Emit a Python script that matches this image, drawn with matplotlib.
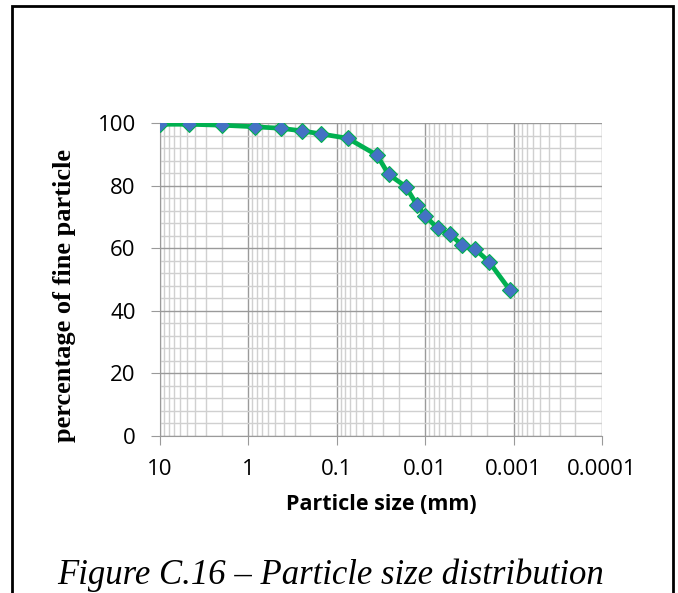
import matplotlib.pyplot as plt
import matplotlib.ticker as ticker
from matplotlib.patches import Rectangle

# particle size (mm) and percentage finer
size_mm = [10, 4.75, 2.0, 0.85, 0.425, 0.25, 0.15, 0.075, 0.035, 0.026,
           0.0166, 0.0124, 0.0100, 0.0072, 0.0052, 0.0038, 0.0027, 0.0019, 0.0011]
pct_finer = [99.6, 99.6, 99.3, 98.8, 98.3, 97.5, 96.5, 95.1, 89.7, 83.6,
             79.7, 73.8, 70.3, 66.3, 64.4, 60.9, 59.6, 55.7, 46.6]

x_ticks = [10, 1, 0.1, 0.01, 0.001, 0.0001]
x_tick_labels = ['10', '1', '0.1', '0.01', '0.001', '0.0001']
y_ticks = [0, 20, 40, 60, 80, 100]

fig = plt.figure(figsize=(6.78, 5.93), dpi=100)
ax = fig.add_axes([160 / 678, 1 - 436 / 593, 442 / 678, 313 / 593])

ax.plot(size_mm, pct_finer, color='#00b050', linewidth=3.4, marker='D',
        markersize=8.5, markerfacecolor='#4472c4', markeredgecolor='#00b050',
        markeredgewidth=0.8, zorder=3)

ax.set_xscale('log')
ax.set_xlim(10, 0.0001)
ax.set_ylim(0, 100)

ax.set_xticks(x_ticks)
ax.set_xticklabels(x_tick_labels)
ax.xaxis.set_minor_locator(ticker.LogLocator(base=10, subs=range(2, 10), numticks=20))
ax.xaxis.set_minor_formatter(ticker.NullFormatter())
ax.set_yticks(y_ticks)
ax.yaxis.set_minor_locator(ticker.MultipleLocator(4))

ax.grid(which='major', color='#9a9a9a', linewidth=1.0)
ax.grid(which='minor', color='#d0d0d0', linewidth=1.0)
ax.set_axisbelow(True)

for side in ['top', 'right']:
    ax.spines[side].set_visible(False)
for side in ['left', 'bottom']:
    ax.spines[side].set_color('#9a9a9a')

ax.tick_params(which='major', length=6.5, color='#9a9a9a', labelsize=16)
ax.tick_params(axis='x', pad=10)
ax.tick_params(axis='y', pad=11)
ax.tick_params(which='minor', length=0)
for lab in ax.get_xticklabels() + ax.get_yticklabels():
    lab.set_family('Open Sans')

ax.set_xlabel('Particle size (mm)', family='Open Sans', fontweight='bold',
              fontsize=15.5, labelpad=10)
ax.set_ylabel('percentage of fine particle', family='Liberation Serif',
              fontweight='bold', fontsize=19)
ax.yaxis.set_label_coords(-0.19, 0.45)

# frame around the figure, as in the document
fig.patches.append(Rectangle((12 / 678, -0.05), 661 / 678, 1.05 - 6 / 593,
                             transform=fig.transFigure, fill=False,
                             edgecolor='black', linewidth=2))

fig.text(57 / 678, 1 / 593, 'Figure C.16 \u2013 Particle size distribution',
         family='Liberation Serif', style='italic', fontsize=25, va='bottom', ha='left')

fig.savefig('out.png', dpi=100)
